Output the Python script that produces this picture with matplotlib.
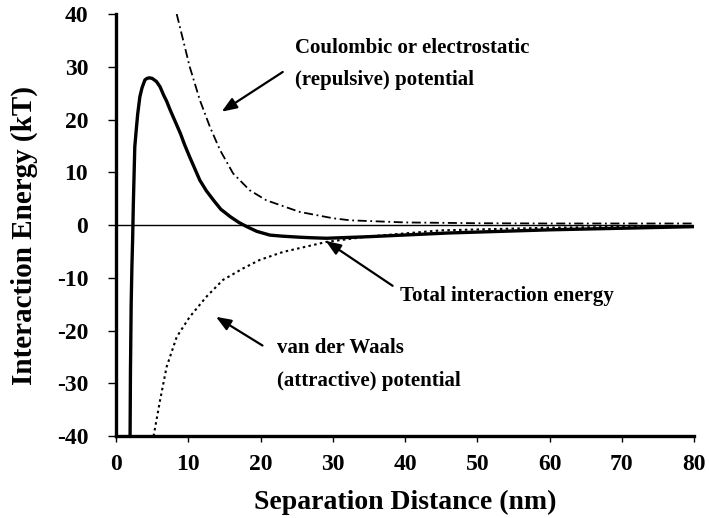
import numpy as np
import matplotlib.pyplot as plt

plt.rcParams['font.family'] = ['Liberation Serif', 'DejaVu Serif']
plt.rcParams['font.weight'] = 'bold'
plt.rcParams['axes.unicode_minus'] = False

# values (separation in nm, energy in kT)
x_coulomb = [8.4, 10.2, 11.6, 13.0, 14.4, 16.2, 18.5, 20.8, 25.4, 30.0, 32.4, 40.0, 50.0, 60.0, 70.0, 80.0]
y_coulomb = [40.0, 30.0, 23.7, 18.6, 14.2, 9.8, 6.6, 4.7, 2.5, 1.3, 0.9, 0.5, 0.35, 0.3, 0.3, 0.3]

x_vdw = [5.2, 6.1, 7.0, 8.4, 10.2, 12.5, 14.8, 17.6, 19.9, 23.1, 29.1, 34.7, 45.0, 60.0, 80.0]
y_vdw = [-40.0, -33.2, -26.9, -21.2, -17.4, -13.6, -10.4, -8.2, -6.6, -5.1, -3.2, -2.2, -1.0, -0.5, -0.2]

x_total = [1.95, 2.0, 2.1, 2.2, 2.3, 2.4, 2.6, 2.8, 3.0, 3.3, 3.6, 4.0, 4.3, 4.6, 5.0, 5.2, 5.6,
           6.1, 6.6, 7.0, 7.5, 8.2, 8.9, 9.5, 10.2, 10.9, 11.6, 12.5, 13.5, 14.5, 15.8,
           17.0, 18.1, 19.5, 21.3, 23.0, 25.4, 27.0, 29.1, 35.0, 46.0, 53.0, 60.0, 70.0, 80.0]
y_total = [-40.0, -28.0, -15.0, -8.0, -2.8, 4.0, 14.8, 18.0, 21.0, 24.3, 26.0, 27.5, 27.8, 27.9, 27.8,
           27.6, 27.2, 26.2, 24.6, 23.5, 21.8, 19.6, 17.4, 15.2, 12.9, 10.7, 8.5, 6.5, 4.7, 3.0, 1.6,
           0.5, -0.3, -1.2, -1.9, -2.1, -2.3, -2.4, -2.5, -2.2, -1.5, -1.2, -0.9, -0.6, -0.3]

fig = plt.figure(figsize=(7.09, 5.18), dpi=100)
ax = fig.add_axes([0.1636, 0.158, 0.979 - 0.1636, 0.973 - 0.158])

ax.axhline(0, color='black', linewidth=1.0)
ax.plot(x_coulomb, y_coulomb, color='black', linestyle=(0, (5, 2, 1, 2)), linewidth=1.3)
ax.plot(x_vdw, y_vdw, color='black', linestyle=(0, (1.2, 1.6)), linewidth=1.5)
ax.plot(x_total, y_total, color='black', linewidth=2.4, solid_joinstyle='round')

ax.set_xlim(0, 80)
ax.set_ylim(-40, 40)
ax.set_xticks(range(0, 81, 10))
ax.set_yticks(range(-40, 41, 10))
for s in ['top', 'right']:
    ax.spines[s].set_visible(False)
for s in ['left', 'bottom']:
    ax.spines[s].set_linewidth(2.4)
ax.tick_params(axis='x', direction='out', length=4.5, width=1.0, labelsize=17, pad=8)
ax.tick_params(axis='y', direction='out', length=6, width=1.0, labelsize=17, pad=14)
for lab in ax.get_xticklabels() + ax.get_yticklabels():
    lab.set_fontweight('bold')

ax.set_xlabel('Separation Distance (nm)', fontsize=20, fontweight='bold', labelpad=11)
ax.set_ylabel('Interaction Energy (kT)', fontsize=21, fontweight='bold')
ax.yaxis.set_label_coords(-0.135, 0.476)

arrow = dict(arrowstyle='-|>,head_length=0.9,head_width=0.35', color='black', linewidth=1.6)
ax.annotate('', xy=(14.3, 21.2), xytext=(23.4, 29.3), arrowprops=arrow)
ax.annotate('', xy=(28.7, -2.7), xytext=(38.6, -11.8), arrowprops=arrow)
ax.annotate('', xy=(13.5, -17.1), xytext=(20.6, -23.1), arrowprops=arrow)

tkw = dict(fontsize=15, fontweight='bold', va='center', ha='left')
ax.text(24.8, 33.6, 'Coulombic or electrostatic', **tkw)
ax.text(24.8, 27.5, '(repulsive) potential', **tkw)
ax.text(39.3, -13.5, 'Total interaction energy', **tkw)
ax.text(22.3, -23.3, 'van der Waals', **tkw)
ax.text(22.3, -29.6, '(attractive) potential', **tkw)

fig.savefig('out.png', dpi=100)
